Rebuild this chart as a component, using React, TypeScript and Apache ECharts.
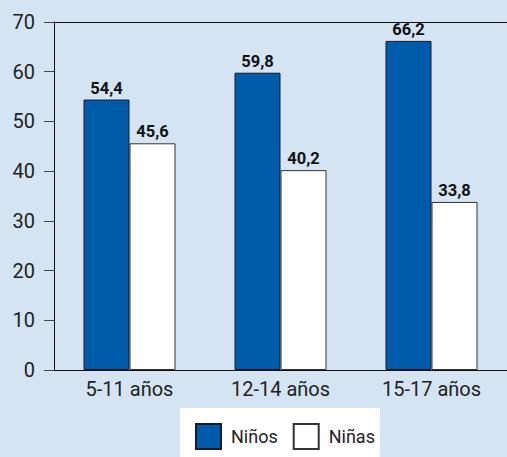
import React, { useEffect, useRef } from "react";
import * as echarts from "echarts";

const categories = ["5-11 años", "12-14 años", "15-17 años"];
const ninos = [54.4, 59.8, 66.2];
const ninas = [45.6, 40.2, 33.8];
const seriesNames = ["Niños", "Niñas"];

const FONT = "Roboto";

export default function App() {
  const ref = useRef<HTMLDivElement>(null);
  useEffect(() => {
    document.body.style.margin = "0";
    const chart = echarts.init(ref.current!, null, { renderer: "svg" });
    const labelCfg = {
      show: true,
      position: "top" as const,
      distance: 3,
      fontFamily: FONT,
      fontWeight: "bold" as const,
      fontSize: 16.5,
      color: "#111",
      formatter: (p: any) => String(p.value).replace(".", ","),
    };
    chart.setOption({
      animation: false,
      backgroundColor: "#d4e4f2",
      textStyle: { fontFamily: FONT },
      graphic: [
        {
          type: "rect",
          left: 180,
          top: 408,
          shape: { width: 200, height: 49 },
          style: { fill: "#ffffff" },
          z: -1,
        },
      ],
      legend: {
        left: 195,
        top: 423,
        padding: 0,
        itemWidth: 25,
        itemHeight: 25,
        itemGap: 15,
        icon: "rect",
        textStyle: { fontFamily: FONT, fontSize: 18, color: "#222", padding: [0, 0, 0, 5] },
        data: seriesNames,
      },
      grid: { left: 54, right: 0, top: 22, bottom: 87, containLabel: false },
      xAxis: [
        {
          type: "category",
          data: categories,
          axisLine: { show: true, lineStyle: { color: "#111", width: 1 } },
          axisTick: { show: false },
          axisLabel: { fontFamily: FONT, fontSize: 20, color: "#222", margin: 9 },
        },
        {
          type: "category",
          position: "top",
          data: categories,
          axisLine: { show: true, lineStyle: { color: "#111", width: 1 } },
          axisTick: { show: false },
          axisLabel: { show: false },
        },
      ],
      yAxis: {
        type: "value",
        min: 0,
        max: 70,
        interval: 10,
        axisLine: { show: true, lineStyle: { color: "#111", width: 1 } },
        axisTick: { show: true, length: 10, lineStyle: { color: "#444" } },
        splitLine: { show: false },
        axisLabel: { fontFamily: FONT, fontSize: 20, color: "#222", margin: 19 },
      },
      series: [
        {
          name: seriesNames[0],
          type: "bar",
          data: ninos,
          barWidth: 46,
          barGap: "0%",
          itemStyle: { color: "#005baa", borderColor: "#1a1a2a", borderWidth: 1 },
          label: labelCfg,
        },
        {
          name: seriesNames[1],
          type: "bar",
          data: ninas,
          barWidth: 46,
          barGap: "0%",
          itemStyle: { color: "#ffffff", borderColor: "#333", borderWidth: 1 },
          label: labelCfg,
        },
      ],
    });
    return () => chart.dispose();
  }, []);
  return (
    <div
      ref={ref}
      style={{ position: "absolute", left: 0, top: 0, width: 507, height: 457 }}
    />
  );
}
